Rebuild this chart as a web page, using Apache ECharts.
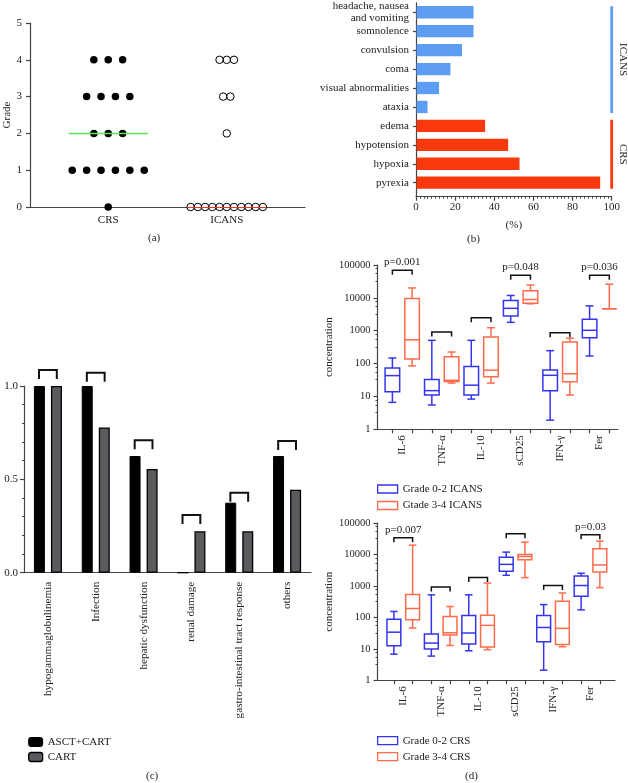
<!DOCTYPE html>
<html><head><meta charset="utf-8">
<script src="https://cdn.jsdelivr.net/npm/echarts@6/dist/echarts.min.js"></script>
<style>html,body{margin:0;padding:0;background:#fff}#c{width:628px;height:783px}</style>
</head><body><div id="c"></div>
<script>
// ---------- (a) grades ----------
const gradeCategories = ['CRS', 'ICANS'];
const crsGrades = [0, 1, 1, 1, 1, 1, 1, 2, 2, 2, 3, 3, 3, 3, 4, 4, 4];
const icansGrades = [0, 0, 0, 0, 0, 0, 0, 0, 0, 0, 0, 2, 3, 3, 4, 4, 4];

// ---------- (b) symptoms ----------
const symptomNames = ['headache, nausea\nand vomiting', 'somnolence', 'convulsion', 'coma',
  'visual abnormalities', 'ataxia', 'edema', 'hypotension', 'hypoxia', 'pyrexia'];
const symptomPct = [29.4, 29.4, 23.5, 17.6, 11.8, 5.9, 35.3, 47.1, 52.9, 94.1];
const symptomGroup = ['ICANS', 'ICANS', 'ICANS', 'ICANS', 'ICANS', 'ICANS', 'CRS', 'CRS', 'CRS', 'CRS'];

// ---------- (c) adverse events ----------
const aeNames = ['hypogammaglobulinemia', 'Infection', 'hepatic dysfunction', 'renal damage',
  'gastro-intestinal tract response', 'others'];
const asctCart = [1, 1, 0.625, 0, 0.375, 0.625];
const cartOnly = [1, 0.778, 0.556, 0.222, 0.222, 0.444];
const aeBracketLevel = [1.086, 1.071, 0.709, 0.309, 0.428, 0.705];

// ---------- (d) cytokines: [min, q1, median, q3, max] ----------
const cytokines = ['IL-6', 'TNF-α', 'IL-10', 'sCD25', 'IFN-γ', 'Fer'];
const icansLow = [[6.6, 14, 43, 74, 148], [5.5, 11, 15, 33, 510], [8.3, 11, 22, 81, 510],
  [1800, 2800, 4800, 8300, 11800], [1.9, 15, 44, 64, 247], [170, 610, 1030, 2250, 5700]];
const icansHigh = [[85, 138, 530, 9500, 20000], [25.5, 28.5, 31, 160, 225], [25.5, 40, 63, 645, 1230],
  [6600, 6900, 8900, 16600, 24700], [11, 28, 49, 455, 590], [4650, 4650, 4650, 4650, 26000]];
const icansBracketLevel = [69000, 910, 2470, 49000, 870, 49000];
const icansP = ['p=0.001', '', '', 'p=0.048', '', 'p=0.036'];
const crsLow = [[6.8, 12.6, 34, 87, 155], [5.9, 10, 15.3, 29.5, 525], [8.7, 14.2, 32, 116, 525],
  [2200, 2950, 4900, 8200, 12000], [2.1, 16.8, 48, 116, 257], [174, 475, 1040, 2100, 2550]];
const crsHigh = [[46, 84, 193, 537, 20000], [12.9, 27.5, 32.5, 108, 223], [9.4, 11.4, 56, 118, 1250],
  [1860, 6900, 8700, 10000, 25000], [11.7, 13.9, 45, 330, 600], [890, 2800, 4700, 15500, 27000]];
const crsBracketLevel = [34700, 935, 1860, 46000, 1040, 43000];
const crsP = ['p=0.007', '', '', '', '', 'p=0.03'];

// ================= drawing =================
const FONT = "'Liberation Serif','DejaVu Serif',serif";
const AX = '#444', TXT = '#222';
const BLUE = '#3535f0', ORANGE = '#ff6b4b';
const BAR_BLUE = '#5c9cf3', BAR_RED = '#fa3a0c';
const FS = 11;

const chart = echarts.init(document.getElementById('c'), null, {renderer: 'canvas', width: 628, height: 783});

function median(arr) { const s = arr.slice().sort((a, b) => a - b); const n = s.length;
  return n % 2 ? s[(n - 1) / 2] : (s[n / 2 - 1] + s[n / 2]) / 2; }
function swarm(grades, center, step) {
  const counts = {}; grades.forEach(g => counts[g] = (counts[g] || 0) + 1);
  const seen = {};
  return grades.map(g => { seen[g] = (seen[g] === undefined ? 0 : seen[g] + 1);
    return [center + (seen[g] - (counts[g] - 1) / 2) * step, g]; });
}
function maxRow(grades) { const c = {}; grades.forEach(g => c[g] = (c[g] || 0) + 1); return Math.max(...Object.values(c)); }

const CRS_STEP = 0.1215, ICANS_STEP = 0.061, DOT_R = 0.03;
const crsHalf = (maxRow(crsGrades) - 1) / 2 * CRS_STEP + DOT_R;
const icansHalf = (maxRow(icansGrades) - 1) / 2 * ICANS_STEP + DOT_R;

// symptom group runs
const groupRuns = [];
symptomGroup.forEach((g, i) => {
  const last = groupRuns[groupRuns.length - 1];
  if (last && last.name === g) last.end = i; else groupRuns.push({name: g, start: i, end: i});
});
const groupColor = {ICANS: BAR_BLUE, CRS: BAR_RED};

const lab = (extra) => Object.assign({fontFamily: FONT, fontSize: FS, color: TXT}, extra || {});
const axLine = {show: true, onZero: false, lineStyle: {color: AX, width: 1.2}};
const tick = (len, extra) => Object.assign({show: true, length: len, lineStyle: {color: AX, width: 1.2}}, extra || {});

function boxRender(color) {
  return function (params, api) {
    const x = api.value(0);
    const v = [1, 2, 3, 4, 5].map(k => api.value(k));
    const L = api.coord([x - 0.37, v[2]])[0], R = api.coord([x + 0.37, v[2]])[0];
    const cx = (L + R) / 2;
    const y = v.map(val => api.coord([x, val])[1]);
    const cap = (R - L) * 0.27;
    const st = {stroke: color, lineWidth: 1.5, fill: null};
    const ch = [
      {type: 'rect', shape: {x: L, y: y[3], width: R - L, height: y[1] - y[3]}, style: {stroke: color, lineWidth: 1.5, fill: null}},
      {type: 'line', shape: {x1: L, y1: y[2], x2: R, y2: y[2]}, style: st}
    ];
    if (v[4] > v[3]) {
      ch.push({type: 'line', shape: {x1: cx, y1: y[3], x2: cx, y2: y[4]}, style: st});
      ch.push({type: 'line', shape: {x1: cx - cap, y1: y[4], x2: cx + cap, y2: y[4]}, style: st});
    }
    if (v[0] < v[1]) {
      ch.push({type: 'line', shape: {x1: cx, y1: y[1], x2: cx, y2: y[0]}, style: st});
      ch.push({type: 'line', shape: {x1: cx - cap, y1: y[0], x2: cx + cap, y2: y[0]}, style: st});
    }
    return {type: 'group', children: ch};
  };
}
function pBracketRender(pTexts) {
  return function (params, api) {
    const g = api.value(0), lvl = api.value(1);
    const a = api.coord([2 * g, lvl]), b = api.coord([2 * g + 1, lvl]);
    const st = {stroke: '#111', lineWidth: 1.5, fill: null};
    const ch = [{type: 'polyline', shape: {points: [[a[0], a[1] + 4.5], [a[0], a[1]], [b[0], b[1]], [b[0], b[1] + 4.5]]}, style: st}];
    const t = pTexts[params.dataIndex];
    if (t) ch.push({type: 'text', x: (a[0] + b[0]) / 2, y: a[1] - 8,
      style: {text: t, font: '11px ' + FONT, fill: TXT, align: 'center', verticalAlign: 'middle'}});
    return {type: 'group', children: ch};
  };
}
const boxData = arr => arr.map((q, g) => [2 * g].concat(q));
const boxDataHigh = arr => arr.map((q, g) => [2 * g + 1].concat(q));
const logLabel = lab({fontSize: 10.5, margin: 7, formatter: v => String(Math.round(v))});

const option = {
  animation: false,
  backgroundColor: '#fff',
  textStyle: {fontFamily: FONT},
  grid: [
    {left: 30, top: 23, width: 275, height: 184, outerBoundsMode: 'none'},
    {left: 416, top: 2.8, width: 195.7, height: 193.9, outerBoundsMode: 'none'},
    {left: 24, top: 386, width: 287, height: 186.7, outerBoundsMode: 'none'},
    {left: 377.5, top: 265, width: 240.5, height: 164.3, outerBoundsMode: 'none'},
    {left: 377.5, top: 523.2, width: 237.5, height: 157.1, outerBoundsMode: 'none'}
  ],
  xAxis: [
    {gridIndex: 0, type: 'value', min: -0.66, max: 1.66, splitLine: {show: false}, axisLine: axLine,
      axisTick: {show: false},
      axisLabel: lab({customValues: [0, 1], margin: 8, formatter: v => gradeCategories[Math.round(v)]})},
    {gridIndex: 1, type: 'value', min: 0, max: 100, interval: 20, splitLine: {show: false}, axisLine: axLine,
      axisTick: tick(4), minorTick: {show: true, splitNumber: 10, length: 2, lineStyle: {color: AX}},
      axisLabel: lab({margin: 5}), name: '(%)', nameLocation: 'middle', nameGap: 23,
      nameTextStyle: lab()},
    {gridIndex: 2, type: 'category', data: aeNames, axisLine: axLine, axisTick: {show: false},
      axisLabel: lab({fontSize: 11.2, rotate: 90, interval: 0, margin: 9})},
    {gridIndex: 3, type: 'value', min: -0.755, max: 11.44, splitLine: {show: false}, axisLine: axLine,
      axisTick: tick(4, {customValues: [0, 1, 2, 3, 4, 5, 6, 7, 8, 9, 10, 11]}),
      axisLabel: lab({customValues: [0.5, 2.5, 4.5, 6.5, 8.5, 10.5], rotate: 90, margin: 6,
        formatter: v => cytokines[Math.round((v - 0.5) / 2)]})},
    {gridIndex: 4, type: 'value', min: -0.875, max: 11.81, splitLine: {show: false}, axisLine: axLine,
      axisTick: tick(4, {customValues: [0, 1, 2, 3, 4, 5, 6, 7, 8, 9, 10, 11]}),
      axisLabel: lab({customValues: [0.5, 2.5, 4.5, 6.5, 8.5, 10.5], rotate: 90, margin: 6,
        formatter: v => cytokines[Math.round((v - 0.5) / 2)]})}
  ],
  yAxis: [
    {gridIndex: 0, type: 'value', min: 0, max: 5, interval: 1, splitLine: {show: false}, axisLine: axLine,
      axisTick: tick(4), axisLabel: lab({margin: 8}), name: 'Grade', nameLocation: 'middle', nameGap: 16,
      nameRotate: 90, nameTextStyle: lab()},
    {gridIndex: 1, type: 'value', inverse: true, min: -0.5, max: 9.74, splitLine: {show: false}, axisLine: axLine,
      axisTick: tick(3, {customValues: [0, 1, 2, 3, 4, 5, 6, 7, 8, 9]}),
      axisLabel: lab({customValues: [0, 1, 2, 3, 4, 5, 6, 7, 8, 9], margin: 7, lineHeight: 12.5, align: 'right',
        formatter: v => symptomNames[Math.round(v)]})},
    {gridIndex: 2, type: 'value', min: 0, max: 1, interval: 0.5, splitLine: {show: false}, axisLine: axLine,
      axisTick: tick(4), minorTick: {show: true, splitNumber: 5, length: 2, lineStyle: {color: AX}},
      axisLabel: lab({margin: 6, formatter: v => v.toFixed(1)})},
    {gridIndex: 3, type: 'log', logBase: 10, min: 1, max: 100000, splitLine: {show: false}, axisLine: axLine,
      axisTick: tick(4), minorTick: {show: true, splitNumber: 4, length: 2, lineStyle: {color: AX}},
      axisLabel: logLabel,
      name: 'concentration', nameLocation: 'middle', nameGap: 43, nameRotate: 90, nameTextStyle: lab()},
    {gridIndex: 4, type: 'log', logBase: 10, min: 1, max: 100000, splitLine: {show: false}, axisLine: axLine,
      axisTick: tick(4), minorTick: {show: true, splitNumber: 4, length: 2, lineStyle: {color: AX}},
      axisLabel: logLabel,
      name: 'concentration', nameLocation: 'middle', nameGap: 43, nameRotate: 90, nameTextStyle: lab()}
  ],
  legend: [
    {data: [{name: 'ASCT+CART', itemStyle: {color: '#000', borderColor: '#000', borderWidth: 1}},
            {name: 'CART', itemStyle: {color: '#5a5a5f', borderColor: '#000', borderWidth: 1.3}}],
      orient: 'vertical', left: 28, top: 736, padding: 0, itemWidth: 14, itemHeight: 9, itemGap: 3, icon: 'roundRect',
      selectedMode: false, textStyle: lab({lineHeight: 12})},
    {data: [{name: 'Grade 0-2 ICANS', itemStyle: {color: 'rgba(255,255,255,0)', borderColor: BLUE, borderWidth: 1.3}},
            {name: 'Gtade 3-4 ICANS', itemStyle: {color: 'rgba(255,255,255,0)', borderColor: ORANGE, borderWidth: 1.3}}],
      orient: 'vertical', left: 377, top: 483, padding: 0, itemWidth: 20, itemHeight: 8, itemGap: 4.5, icon: 'rect',
      selectedMode: false, textStyle: lab({lineHeight: 12})},
    {data: [{name: 'Grade 0-2 CRS', itemStyle: {color: 'rgba(255,255,255,0)', borderColor: BLUE, borderWidth: 1.3}},
            {name: 'Grade 3-4 CRS', itemStyle: {color: 'rgba(255,255,255,0)', borderColor: ORANGE, borderWidth: 1.3}}],
      orient: 'vertical', left: 377, top: 734.7, padding: 0, itemWidth: 20, itemHeight: 8, itemGap: 4, icon: 'rect',
      selectedMode: false, textStyle: lab({lineHeight: 12})}
  ],
  graphic: [
    {type: 'text', left: 148, top: 233, style: {text: '(a)', font: '11px ' + FONT, fill: TXT}},
    {type: 'text', left: 467, top: 234, style: {text: '(b)', font: '11px ' + FONT, fill: TXT}},
    {type: 'text', left: 146, top: 771, style: {text: '(c)', font: '11px ' + FONT, fill: TXT}},
    {type: 'text', left: 465, top: 771, style: {text: '(d)', font: '11px ' + FONT, fill: TXT}}
  ],
  series: [
    // (a)
    {type: 'scatter', name: 'CRS grade', xAxisIndex: 0, yAxisIndex: 0, data: swarm(crsGrades, 0, CRS_STEP),
      symbol: 'circle', symbolSize: 7.5, itemStyle: {color: '#000', opacity: 1}, silent: true, clip: false,
      markLine: {silent: true, symbol: 'none', label: {show: false}, lineStyle: {color: '#62e05a', width: 1.3, type: 'solid'},
        data: [[{coord: [-crsHalf, median(crsGrades)]}, {coord: [crsHalf, median(crsGrades)]}]]}},
    {type: 'scatter', name: 'ICANS grade', xAxisIndex: 0, yAxisIndex: 0, data: swarm(icansGrades, 1, ICANS_STEP),
      symbol: 'circle', symbolSize: 7.5, itemStyle: {color: 'rgba(0,0,0,0)', borderColor: '#000', borderWidth: 1, opacity: 1},
      silent: true, clip: false,
      markLine: {silent: true, symbol: 'none', label: {show: false}, lineStyle: {color: '#e8342a', width: 1.2, type: 'solid'},
        data: [[{coord: [1 - icansHalf, median(icansGrades)]}, {coord: [1 + icansHalf, median(icansGrades)]}]]}},
    // (b)
    {type: 'custom', name: 'symptoms', xAxisIndex: 1, yAxisIndex: 1, silent: true,
      data: symptomPct.map((v, i) => [v, i]), encode: {x: 0, y: 1},
      renderItem: (params, api) => {
        const v = api.value(0), i = api.value(1);
        const p0 = api.coord([0, i]), p1 = api.coord([v, i]);
        const band = api.coord([0, i + 1])[1] - p0[1];
        const h = band * 0.65;
        return {type: 'rect', shape: {x: p0[0] + 0.6, y: p0[1] - h / 2, width: p1[0] - p0[0] - 0.6, height: h},
          style: {fill: groupColor[symptomGroup[params.dataIndex]]}};
      }},
    {type: 'custom', name: 'symptom groups', xAxisIndex: 1, yAxisIndex: 1, silent: true, clip: false,
      data: groupRuns.map(r => [100, r.start, r.end]), encode: {x: 0, y: [1, 2]},
      renderItem: (params, api) => {
        const r = groupRuns[params.dataIndex];
        const a = api.coord([api.value(0), api.value(1)]), b = api.coord([api.value(0), api.value(2)]);
        const band = api.coord([100, 1])[1] - api.coord([100, 0])[1];
        const y0 = a[1] - band * 0.32, y1 = b[1] + band * 0.32;
        return {type: 'group', children: [
          {type: 'rect', shape: {x: a[0] - 1.4, y: y0, width: 2.8, height: y1 - y0}, style: {fill: groupColor[r.name]}},
          {type: 'text', x: a[0] + 11.5, y: (y0 + y1) / 2, rotation: -Math.PI / 2,
            style: {text: r.name, font: '11px ' + FONT, fill: TXT, align: 'center', verticalAlign: 'middle'}}
        ]};
      }},
    // (c)
    {type: 'bar', name: 'ASCT+CART', xAxisIndex: 2, yAxisIndex: 2, data: asctCart, barWidth: 11, barGap: '55%',
      itemStyle: {color: '#000', borderColor: '#000', borderWidth: 1}, silent: true},
    {type: 'bar', name: 'CART', xAxisIndex: 2, yAxisIndex: 2, data: cartOnly, barWidth: 11, barGap: '55%',
      itemStyle: {color: '#5a5a5f', borderColor: '#000', borderWidth: 1.3}, silent: true},
    {type: 'custom', name: 'ae brackets', xAxisIndex: 2, yAxisIndex: 2, silent: true, clip: false,
      data: aeBracketLevel.map((v, i) => [i, v]), encode: {x: 0, y: 1},
      renderItem: (params, api) => {
        const c = api.coord([api.value(0), api.value(1)]);
        const off = 8.9;
        return {type: 'polyline', shape: {points: [[c[0] - off, c[1] + 9], [c[0] - off, c[1]], [c[0] + off, c[1]], [c[0] + off, c[1] + 9]]},
          style: {stroke: '#111', lineWidth: 2, fill: null}};
      }},
    // (d) top: ICANS
    {type: 'custom', name: 'Grade 0-2 ICANS', xAxisIndex: 3, yAxisIndex: 3, silent: true,
      itemStyle: {color: BLUE}, data: boxData(icansLow), encode: {x: 0, y: [1, 2, 3, 4, 5]}, renderItem: boxRender(BLUE)},
    {type: 'custom', name: 'Gtade 3-4 ICANS', xAxisIndex: 3, yAxisIndex: 3, silent: true,
      itemStyle: {color: ORANGE}, data: boxDataHigh(icansHigh), encode: {x: 0, y: [1, 2, 3, 4, 5]}, renderItem: boxRender(ORANGE)},
    {type: 'custom', name: 'ICANS p', xAxisIndex: 3, yAxisIndex: 3, silent: true, clip: false,
      data: icansBracketLevel.map((v, g) => [g, v]), encode: {x: 0, y: 1}, renderItem: pBracketRender(icansP)},
    // (d) bottom: CRS
    {type: 'custom', name: 'Grade 0-2 CRS', xAxisIndex: 4, yAxisIndex: 4, silent: true,
      itemStyle: {color: BLUE}, data: boxData(crsLow), encode: {x: 0, y: [1, 2, 3, 4, 5]}, renderItem: boxRender(BLUE)},
    {type: 'custom', name: 'Grade 3-4 CRS', xAxisIndex: 4, yAxisIndex: 4, silent: true,
      itemStyle: {color: ORANGE}, data: boxDataHigh(crsHigh), encode: {x: 0, y: [1, 2, 3, 4, 5]}, renderItem: boxRender(ORANGE)},
    {type: 'custom', name: 'CRS p', xAxisIndex: 4, yAxisIndex: 4, silent: true, clip: false,
      data: crsBracketLevel.map((v, g) => [g, v]), encode: {x: 0, y: 1}, renderItem: pBracketRender(crsP)}
  ]
};
chart.setOption(option);
</script>
</body></html>
